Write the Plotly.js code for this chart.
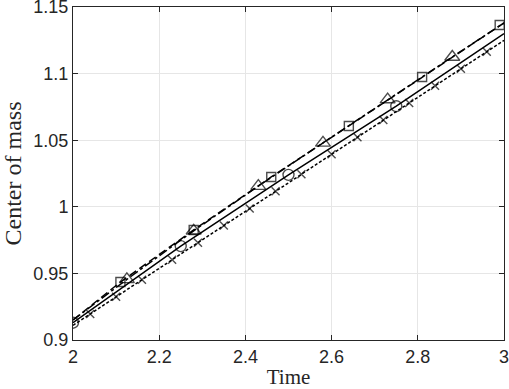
<!DOCTYPE html>
<html>
<head>
<meta charset="utf-8">
<script src="https://cdn.plot.ly/plotly-3.0.1.min.js"></script>
<style>
  html, body { margin: 0; padding: 0; background: #fff; }
  #chart { width: 509px; height: 389px; }
</style>
</head>
<body>
<div id="chart"></div>
<script>
// circles, solid line (marker on every point but the last)
const circX = [2, 2.25, 2.5, 2.75, 3];
const circY = [0.913, 0.9705, 1.024, 1.0755, 1.130];

// squares, dashed line
const sqX = [2, 2.11, 2.28, 2.46, 2.64, 2.81, 2.99, 3];
const sqY = [0.915, 0.9435, 0.9826, 1.0224, 1.0607, 1.0975, 1.1365, 1.138];

// triangles, dash-dot line
const triX = [2, 2.125, 2.28, 2.43, 2.58, 2.73, 2.88, 3];
const triY = [0.915, 0.9455, 0.982, 1.0155, 1.048, 1.0805, 1.1125, 1.138];

// crosses, dotted line
const crossX = [2, 2.04, 2.10, 2.16, 2.23, 2.29, 2.35, 2.41, 2.47, 2.53, 2.60, 2.66, 2.72, 2.78, 2.84, 2.90, 2.96, 3];
const crossY = [0.911, 0.9196, 0.9324, 0.9452, 0.9602, 0.973, 0.9859, 0.9987, 1.0116, 1.0244, 1.0394, 1.0522, 1.0651, 1.0779, 1.0908, 1.1036, 1.1164, 1.125];

const xTicks = [2, 2.2, 2.4, 2.6, 2.8, 3];
const xTickText = ['2', '2.2', '2.4', '2.6', '2.8', '3'];
const yTicks = [0.9, 0.95, 1, 1.05, 1.1, 1.15];
const yTickText = ['0.9', '0.95', '1', '1.05', '1.1', '1.15'];

const ink = '#262626';

// hide the marker on the line ends that carry none
function sizes(xs, size, skipFirst) {
    return xs.map((x, i) => {
        if (i === xs.length - 1) return 0;
        if (skipFirst && i === 0) return 0;
        return size;
    });
}

const traces = [
    {
        x: crossX, y: crossY, mode: 'lines+markers',
        line: { color: '#000', width: 1.5, dash: '3px,2px' },
        marker: { symbol: 'x-thin-open', size: sizes(crossX, 8, true), color: '#000', line: { color: '#000', width: 1.4 } }
    },
    {
        x: circX, y: circY, mode: 'lines+markers',
        line: { color: '#000', width: 1.5 },
        marker: { symbol: 'circle-open', size: sizes(circX, 11, false), color: '#000', line: { color: '#000', width: 1.4 } }
    },
    {
        x: triX, y: triY, mode: 'lines+markers',
        line: { color: '#000', width: 1.5, dash: 'dashdot' },
        marker: { symbol: 'triangle-up-open', size: sizes(triX, 13, true), color: '#000', line: { color: '#000', width: 1.4 } }
    },
    {
        x: sqX, y: sqY, mode: 'lines+markers',
        line: { color: '#000', width: 1.5, dash: '8px,4px' },
        marker: { symbol: 'square-open', size: sizes(sqX, 9, true), color: '#000', line: { color: '#000', width: 1.4 } }
    }
];

const layout = {
    width: 509,
    height: 389,
    margin: { l: 73, r: 5, t: 7, b: 49 },
    paper_bgcolor: '#fff',
    plot_bgcolor: '#fff',
    showlegend: false,
    xaxis: {
        range: [2, 3],
        tickvals: xTicks,
        ticktext: xTickText,
        ticks: 'inside',
        ticklen: 5,
        tickcolor: ink,
        showline: true,
        linecolor: ink,
        linewidth: 1,
        mirror: 'ticks',
        showgrid: true,
        gridcolor: '#e6e6e6',
        zeroline: false,
        ticklabeloverflow: 'allow',
        tickfont: { family: 'Liberation Sans, Arial, sans-serif', size: 18, color: ink },
        title: { text: 'Time', font: { family: 'Liberation Serif, DejaVu Serif, serif', size: 21, color: ink }, standoff: 6 }
    },
    yaxis: {
        range: [0.9, 1.15],
        tickvals: yTicks,
        ticktext: yTickText,
        ticks: 'inside',
        ticklen: 5,
        tickcolor: ink,
        showline: true,
        linecolor: ink,
        linewidth: 1,
        mirror: 'ticks',
        showgrid: true,
        gridcolor: '#e6e6e6',
        zeroline: false,
        ticklabeloverflow: 'allow',
        tickfont: { family: 'Liberation Sans, Arial, sans-serif', size: 18, color: ink },
        title: { text: 'Center of mass', font: { family: 'Liberation Serif, DejaVu Serif, serif', size: 24, color: ink }, standoff: 6 }
    }
};

Plotly.newPlot('chart', traces, layout, { displayModeBar: false, staticPlot: true });
</script>
</body>
</html>
